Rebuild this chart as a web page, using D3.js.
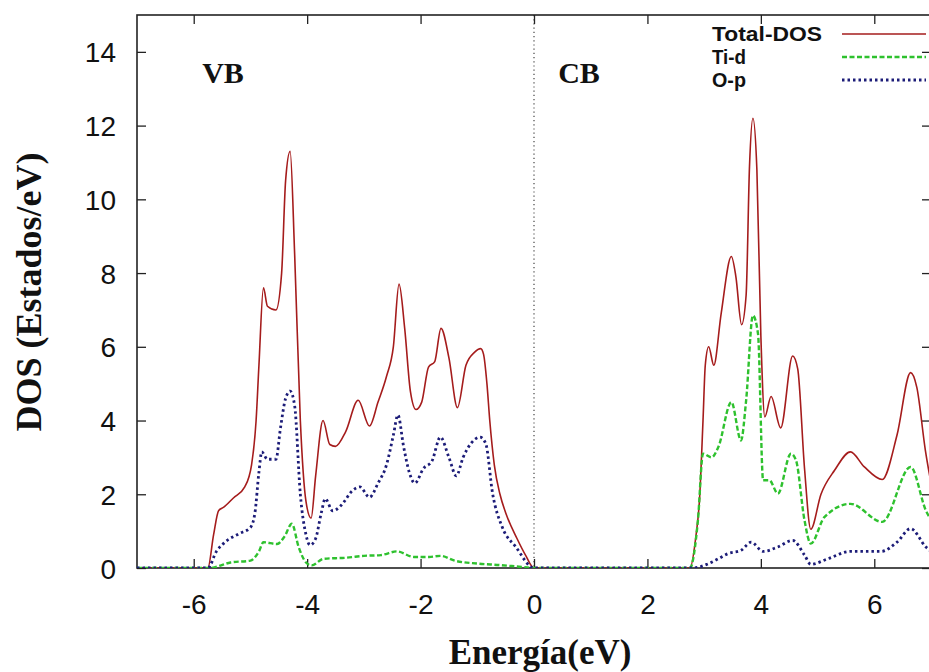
<!DOCTYPE html>
<html><head><meta charset="utf-8">
<script src="https://cdn.jsdelivr.net/npm/d3@7"></script>
<style>
html,body{margin:0;padding:0;background:#fff;}
svg{display:block;}
</style></head>
<body>
<svg id="chart" width="929" height="672"></svg>
<script>
// ---- data ----
const xTicks = [-6, -4, -2, 0, 2, 4, 6];
const yTicks = [0, 2, 4, 6, 8, 10, 12, 14];
const seriesNames = ["Total-DOS", "Ti-d", "O-p"];

const totalE = [-7, -5.75, -5.65, -5.56, -5.47, -5.3, -5.1, -4.98, -4.9, -4.85, -4.77, -4.7, -4.55, -4.45, -4.38, -4.3, -4.22, -4.12, -4.02, -3.93, -3.85, -3.72, -3.6, -3.5, -3.32, -3.1, -2.9, -2.75, -2.6, -2.48, -2.38, -2.28, -2.18, -2.08, -1.98, -1.86, -1.75, -1.64, -1.5, -1.35, -1.2, -1.05, -0.94, -0.89, -0.83, -0.78, -0.7, -0.6, -0.5, -0.3, -0.15, 0, 2.75, 2.85, 2.92, 2.98, 3.02, 3.08, 3.17, 3.3, 3.48, 3.56, 3.66, 3.74, 3.8, 3.86, 3.93, 4.0, 4.07, 4.18, 4.35, 4.56, 4.65, 4.77, 4.88, 5.06, 5.3, 5.58, 5.82, 6.14, 6.4, 6.64, 6.75, 6.9, 7];
const totalD = [0, 0, 0.9, 1.56, 1.65, 1.9, 2.2, 2.8, 4.0, 5.5, 7.6, 7.1, 7.0, 8.0, 10.5, 11.3, 8.5, 4.0, 1.8, 1.35, 2.5, 4.0, 3.35, 3.3, 3.7, 4.55, 3.85, 4.5, 5.2, 6.0, 7.7, 6.5, 4.8, 4.3, 4.5, 5.45, 5.6, 6.5, 5.7, 4.35, 5.5, 5.85, 5.95, 5.8, 5.0, 4.0, 2.8, 2.0, 1.5, 0.8, 0.35, 0, 0, 0.8, 1.9, 4.0, 5.5, 6.0, 5.5, 6.9, 8.45, 7.9, 6.6, 7.4, 10.9, 12.2, 10.8, 6.3, 4.1, 4.65, 3.8, 5.75, 5.4, 2.7, 1.05, 2.0, 2.65, 3.15, 2.75, 2.4, 3.6, 5.3, 4.9, 3.2, 2.3];

const tidE = [-7, -5.72, -5.35, -5.0, -4.85, -4.77, -4.53, -4.4, -4.27, -4.15, -4.02, -3.92, -3.71, -3.3, -3.0, -2.7, -2.42, -2.12, -1.85, -1.65, -1.4, -1.0, -0.6, -0.3, 0, 2.75, 2.89, 2.98, 3.13, 3.25, 3.48, 3.65, 3.74, 3.86, 3.95, 4.04, 4.15, 4.3, 4.53, 4.62, 4.77, 4.88, 5.12, 5.58, 6.14, 6.64, 6.91, 7];
const tidD = [0, 0, 0.15, 0.2, 0.45, 0.7, 0.65, 0.85, 1.2, 0.57, 0.15, 0.07, 0.25, 0.28, 0.33, 0.35, 0.45, 0.3, 0.3, 0.33, 0.2, 0.12, 0.08, 0.04, 0, 0, 1.29, 3.1, 3.0, 3.28, 4.5, 3.46, 4.54, 6.85, 6.35, 2.38, 2.38, 2.02, 3.1, 2.92, 1.29, 0.66, 1.38, 1.74, 1.25, 2.74, 1.56, 1.3];

const opE = [-7, -5.75, -5.6, -5.45, -5.2, -5.0, -4.92, -4.85, -4.8, -4.7, -4.55, -4.47, -4.38, -4.3, -4.22, -4.12, -4.02, -3.95, -3.85, -3.75, -3.68, -3.55, -3.4, -3.2, -3.07, -2.9, -2.75, -2.6, -2.48, -2.4, -2.3, -2.2, -2.1, -1.95, -1.8, -1.65, -1.5, -1.37, -1.25, -1.1, -0.95, -0.85, -0.73, -0.56, -0.32, 0, 2.8, 3.05, 3.25, 3.42, 3.65, 3.83, 4.04, 4.3, 4.56, 4.77, 4.88, 5.18, 5.58, 6.12, 6.4, 6.64, 6.91, 7];
const opD = [0, 0, 0.45, 0.7, 0.93, 1.1, 1.5, 2.6, 3.15, 2.95, 2.95, 3.8, 4.6, 4.8, 4.4, 2.0, 0.9, 0.62, 0.8, 1.5, 1.88, 1.55, 1.7, 2.1, 2.2, 1.92, 2.3, 2.8, 3.6, 4.15, 3.3, 2.6, 2.3, 2.7, 2.9, 3.55, 3.0, 2.5, 3.0, 3.4, 3.55, 3.37, 2.02, 1.11, 0.57, 0, 0, 0.1, 0.25, 0.39, 0.48, 0.7, 0.45, 0.57, 0.75, 0.35, 0.1, 0.25, 0.45, 0.45, 0.7, 1.07, 0.57, 0.45];

// ---- layout ----
const svg = d3.select("#chart");
const L = 137, T = 15, R = 931, B = 568;
const x = d3.scaleLinear().domain([-7, 7]).range([L, R]);
const y = d3.scaleLinear().domain([0, 15]).range([B, T]);

svg.append("defs").append("clipPath").attr("id", "clip")
  .append("rect").attr("x", L).attr("y", T).attr("width", R - L).attr("height", B - T);

const sansFont = "'Liberation Sans', Arial, sans-serif";
const serifFont = "'Liberation Serif', 'DejaVu Serif', serif";

// zero line (dotted vertical)
svg.append("line").attr("x1", x(0)).attr("x2", x(0)).attr("y1", T).attr("y2", B)
  .attr("stroke", "#333").attr("stroke-width", 1.1).attr("stroke-dasharray", "1.2,3");

// axes with inward ticks on all sides
const tickLen = 9;
const fmt = d => String(d);
const axB = svg.append("g").attr("transform", `translate(0,${B})`)
  .call(d3.axisBottom(x).tickValues(xTicks).tickSize(-tickLen).tickPadding(26).tickFormat(fmt));
const axT = svg.append("g").attr("transform", `translate(0,${T})`)
  .call(d3.axisTop(x).tickValues(xTicks).tickSize(-tickLen).tickFormat(""));
const axL = svg.append("g").attr("transform", `translate(${L},0)`)
  .call(d3.axisLeft(y).tickValues(yTicks).tickSize(-tickLen).tickPadding(21).tickFormat(fmt));
const axR = svg.append("g").attr("transform", `translate(${R},0)`)
  .call(d3.axisRight(y).tickValues(yTicks).tickSize(-tickLen).tickFormat(""));
[axB, axT, axL, axR].forEach(g => {
  g.select(".domain").remove();
  g.selectAll(".tick line").attr("stroke", "#222").attr("stroke-width", 1.3);
  g.selectAll("text").attr("font-family", sansFont).attr("font-size", 28).attr("fill", "#111");
});
axL.selectAll("text").attr("dy", "0.36em");

// frame
svg.append("rect").attr("x", L).attr("y", T).attr("width", R - L).attr("height", B - T)
  .attr("fill", "none").attr("stroke", "#222").attr("stroke-width", 1.6);

// curves
const mk = (E, D) => E.map((e, i) => ({ e, d: D[i] }));
const line = d3.line().x(p => x(p.e)).y(p => y(p.d)).curve(d3.curveMonotoneX);
const series = [
  { name: seriesNames[0], data: mk(totalE, totalD), color: "#a51c1c", width: 1.6, dash: null },
  { name: seriesNames[1], data: mk(tidE, tidD), color: "#2ec12e", width: 2.4, dash: "5,2.5" },
  { name: seriesNames[2], data: mk(opE, opD), color: "#1c1c78", width: 2.8, dash: "2.5,3" }
];
const plot = svg.append("g").attr("clip-path", "url(#clip)");
series.forEach(s => {
  plot.append("path").datum(s.data).attr("d", line)
    .attr("fill", "none").attr("stroke", s.color).attr("stroke-width", s.width)
    .attr("stroke-dasharray", s.dash).attr("stroke-linejoin", "round");
});

// legend
const legY = [34, 57, 80];
const legW = [110, 34, 34];
series.forEach((s, i) => {
  svg.append("text").attr("x", 712).attr("y", legY[i]).attr("dy", "0.35em")
    .attr("font-family", sansFont).attr("font-weight", "bold").attr("font-size", 20)
    .attr("textLength", legW[i]).attr("lengthAdjust", "spacingAndGlyphs")
    .attr("fill", "#111").text(s.name);
  svg.append("line").attr("x1", 842).attr("x2", 926).attr("y1", legY[i]).attr("y2", legY[i])
    .attr("stroke", s.color).attr("stroke-width", s.width).attr("stroke-dasharray", s.dash);
});

// region labels
svg.append("text").attr("x", 223).attr("y", 83).attr("text-anchor", "middle")
  .attr("font-family", serifFont).attr("font-weight", "bold").attr("font-size", 30).attr("fill", "#111").text("VB");
svg.append("text").attr("x", 579).attr("y", 83).attr("text-anchor", "middle")
  .attr("font-family", serifFont).attr("font-weight", "bold").attr("font-size", 30).attr("fill", "#111").text("CB");

// axis titles
svg.append("text").attr("x", 540).attr("y", 664).attr("text-anchor", "middle")
  .attr("font-family", serifFont).attr("font-weight", "bold").attr("font-size", 35).attr("fill", "#111").text("Energía(eV)");
svg.append("text").attr("transform", `translate(41,292) rotate(-90)`).attr("text-anchor", "middle")
  .attr("font-family", serifFont).attr("font-weight", "bold").attr("font-size", 36).attr("fill", "#111").text("DOS (Estados/eV)");
</script>
</body></html>
